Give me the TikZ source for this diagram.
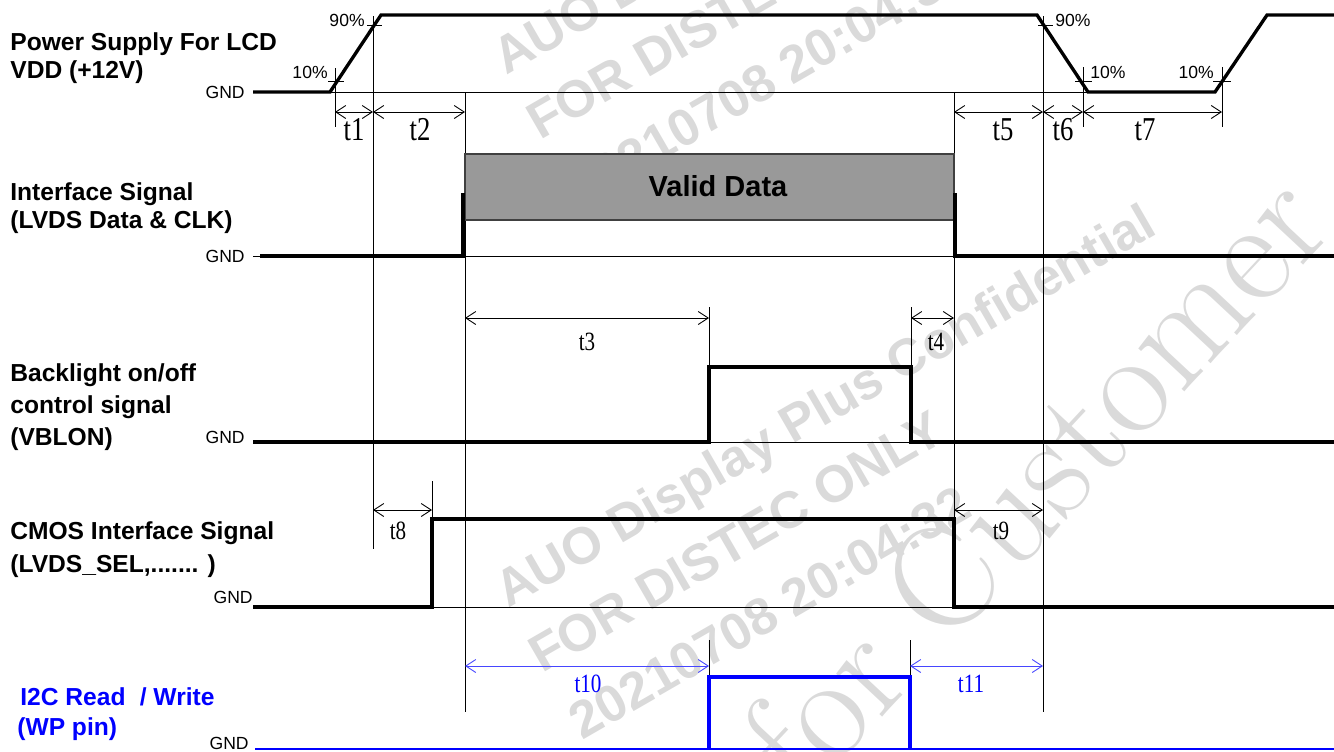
\documentclass[tikz,border=0pt]{standalone}
\usepackage{fontspec}
\newfontfamily\arialfont{Liberation Sans}
\newfontfamily\dimfont[FakeStretch=0.8]{Liberation Serif}
\usetikzlibrary{arrows.meta,positioning}
\definecolor{wmgray}{RGB}{218,218,218}
\definecolor{databox}{RGB}{153,153,153}
\definecolor{databorder}{RGB}{64,64,64}
\definecolor{wpblue}{RGB}{0,0,255}
\definecolor{wpdim}{RGB}{70,70,255}
\tikzset{
sigline/.style={
  line width=1.9pt,
  line join=miter,
  draw=black,
  }
}
\tikzset{
wpline/.style={
  line width=1.9pt,
  line join=miter,
  draw=wpblue,
  }
}
\tikzset{
refline/.style={
  line width=0.5pt,
  draw=black,
  }
}
\tikzset{
dimline/.style={
  line width=0.5pt,
  {Straight Barb[length=2mm,width=2.6mm]}-{Straight Barb[length=2mm,width=2.6mm]}
  }
}
\tikzset{
siglabel/.style={anchor=base west, inner sep=0pt, font=\arialfont\bfseries\fontsize{14}{17}\selectfont},
gndlabel/.style={anchor=base east, inner sep=0pt, font=\arialfont\fontsize{10}{12}\selectfont},
pctlabel/.style={inner sep=0pt, font=\arialfont\fontsize{10}{12}\selectfont},
dimlabel/.style={anchor=base, inner sep=0pt, font=\dimfont\fontsize{15}{18}\selectfont},
bigdimlabel/.style={anchor=base, inner sep=0pt, font=\dimfont\fontsize{19}{22}\selectfont},
wmark/.style={anchor=base west, inner sep=0pt, rotate=30, text=wmgray, font=\arialfont\bfseries\fontsize{29.5}{32}\selectfont}
}

\begin{document}
\begin{tikzpicture}[x=0.02cm, y=-0.02cm]
    \useasboundingbox (0,0) rectangle (1334,751);

    % watermark part
    \node[wmark] (wm_auo_top) at (506,76) {AUO Display Plus Confidential};
    \node[wmark] (wm_for_top) at (540,141) {FOR DISTEC ONLY};
    \node[wmark] (wm_date_top) at (580,208) {20210708 20:04:32};
    \node[wmark] (wm_auo) at (508,609) {AUO Display Plus Confidential};
    \node[wmark] (wm_for) at (542,674) {FOR DISTEC ONLY};
    \node[wmark] (wm_date) at (582,741) {20210708 20:04:32};
    \node[anchor=base west, inner sep=0pt, rotate=47, text=wmgray, font=\rmfamily\fontsize{84}{90}\selectfont] (wm_cust) at (805,800) {for Customer};

    % guide lines
    \draw[refline] (335,68) -- (335,127);
    \draw[refline] (373,16) -- (373,549);
    \draw[refline] (465,92) -- (465,712);
    \draw[refline] (954,92) -- (954,607);
    \draw[refline] (1043,16) -- (1043,712);
    \draw[refline] (1083,67) -- (1083,127);
    \draw[refline] (1222,67) -- (1222,127);
    \draw[refline] (709,307) -- (709,367);
    \draw[refline] (911,307) -- (911,367);
    \draw[refline] (432,481) -- (432,519);
    \draw[refline] (709,640) -- (709,698);
    \draw[refline] (910,640) -- (910,717);

    % power supply part
    \node[siglabel] (vdd_name) at (10,50) {Power Supply For LCD};
    \node[siglabel] (vdd_volt) at (10,78) {VDD (+12V)};
    \node[gndlabel] (vdd_gnd) at (245,98) {GND};
    \draw[refline] (253,92) -- (1215,92);
    \draw[sigline] (253,92) -- (330,92) -- (381,15) -- (1037,15) -- (1088,92) -- (1215,92) -- (1267,15) -- (1334,15);

    % percent marks
    \draw[refline] (328,81) -- (344,81);
    \draw[refline] (367,25) -- (382,25);
    \draw[refline] (1038,25) -- (1053,25);
    \draw[refline] (1075,81) -- (1092,81);
    \draw[refline] (1213,81) -- (1231,81);
    \node[pctlabel, anchor=base east] (on_10) at (328,78) {10\%};
    \node[pctlabel, anchor=base east] (on_90) at (365,26) {90\%};
    \node[pctlabel, anchor=base west] (off_90) at (1055,26) {90\%};
    \node[pctlabel, anchor=base west] (off_10) at (1090,78) {10\%};
    \node[pctlabel, anchor=base east] (re_10) at (1214,78) {10\%};

    % power supply timing
    \draw[dimline] (335,112) -- (373,112);
    \draw[dimline] (373,112) -- (465,112);
    \draw[dimline] (954,112) -- (1043,112);
    \draw[dimline] (1043,112) -- (1083,112);
    \draw[dimline] (1083,112) -- (1222,112);
    \node[bigdimlabel] (t1) at (354,140) {t1};
    \node[bigdimlabel] (t2) at (420,140) {t2};
    \node[bigdimlabel] (t5) at (1003,140) {t5};
    \node[bigdimlabel] (t6) at (1063,140) {t6};
    \node[bigdimlabel] (t7) at (1145,140) {t7};

    % interface part
    \node[siglabel] (lvds_name) at (10,200) {Interface Signal};
    \node[siglabel] (lvds_sig) at (10,228) {(LVDS Data \& CLK)};
    \node[gndlabel] (lvds_gnd) at (245,262) {GND};
    \draw[draw=databorder, fill=databox, line width=0.8pt] (465,154) rectangle (954,220);
    \node[anchor=base, inner sep=0pt, font=\arialfont\bfseries\fontsize{16.5}{20}\selectfont] (valid) at (718,196) {Valid Data};
    \draw[refline] (253,256) -- (955,256);
    \draw[sigline] (260,256) -- (463,256) -- (463,193);
    \draw[sigline] (955,193) -- (955,256) -- (1334,256);

    % backlight part
    \node[siglabel] (bl_name) at (10,381) {Backlight on/off};
    \node[siglabel] (bl_ctrl) at (10,413) {control signal};
    \node[siglabel] (bl_sig) at (10,445) {(VBLON)};
    \node[gndlabel] (bl_gnd) at (245,443) {GND};
    \draw[refline] (709,442) -- (911,442);
    \draw[sigline] (253,442) -- (709,442) -- (709,367) -- (911,367) -- (911,442) -- (1334,442);
    \draw[dimline] (465,318) -- (709,318);
    \draw[dimline] (911,318) -- (954,318);
    \node[dimlabel] (t3) at (587,350) {t3};
    \node[dimlabel] (t4) at (936,350) {t4};

    % cmos part
    \node[siglabel] (cmos_name) at (10,539) {CMOS Interface Signal};
    \node[siglabel] (cmos_sig) at (10,572) {(LVDS\_SEL,....... )};
    \node[gndlabel] (cmos_gnd) at (253,603) {GND};
    \draw[refline] (432,607) -- (954,607);
    \draw[sigline] (253,607) -- (432,607) -- (432,519) -- (954,519) -- (954,607) -- (1334,607);
    \draw[dimline] (373,510) -- (432,510);
    \draw[dimline] (954,510) -- (1043,510);
    \node[dimlabel] (t8) at (398,539) {t8};
    \node[dimlabel] (t9) at (1001,539) {t9};

    % wp pin part
    \node[siglabel, text=wpblue] (wp_name) at (20,705) {I2C Read\hspace{0.3em} / Write};
    \node[siglabel, text=wpblue] (wp_pin) at (17,735) {(WP pin)};
    \node[gndlabel] (wp_gnd) at (249,749) {GND};
    \draw[draw=wpblue, line width=1pt] (255,749) -- (1334,749);
    \draw[wpline] (709,748) -- (709,677) -- (910,677) -- (910,748);
    \draw[dimline, draw=wpdim] (465,666) -- (709,666);
    \draw[dimline, draw=wpdim] (910,666) -- (1043,666);
    \node[dimlabel, text=wpblue] (t10) at (588,692) {t10};
    \node[dimlabel, text=wpblue] (t11) at (971,692) {t11};
\end{tikzpicture}
\end{document}
